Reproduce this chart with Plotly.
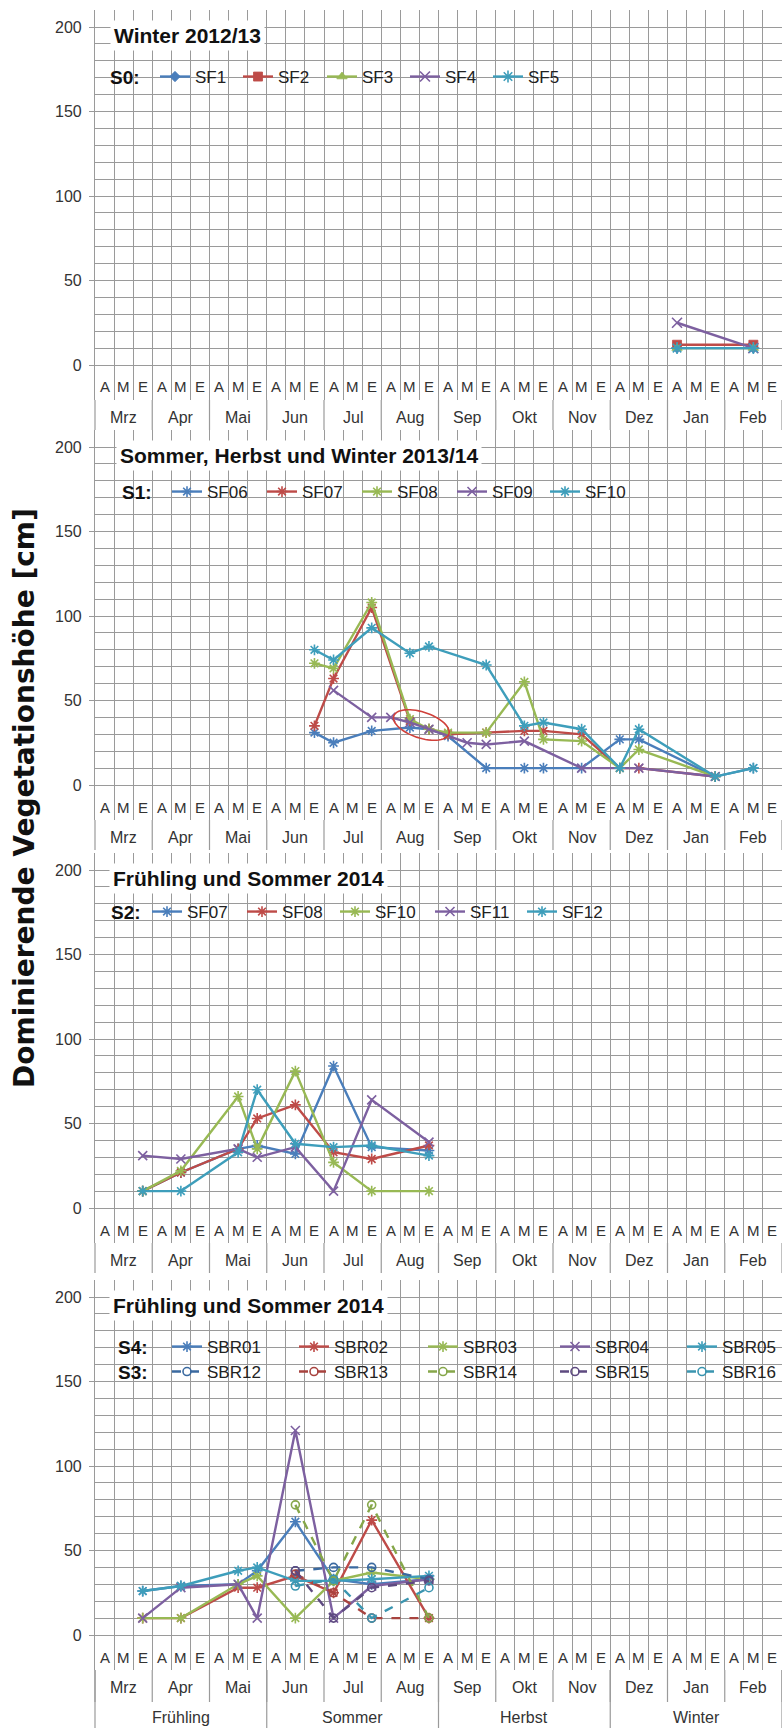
import numpy as np
import plotly.graph_objects as go

# ---------------------------------------------------------------
# Category axis: 12 months, each split into Anfang / Mitte / Ende
# ---------------------------------------------------------------
months = ["Mrz", "Apr", "Mai", "Jun", "Jul", "Aug", "Sep", "Okt", "Nov", "Dez", "Jan", "Feb"]
thirds = ["A", "M", "E"]
seasons = ["Frühling", "Sommer", "Herbst", "Winter"]
slots = [f"{m} {t}" for m in months for t in thirds]
slot_index = {s: i for i, s in enumerate(slots)}
n_slots = len(slots)

y_major = [0, 50, 100, 150, 200]
y_minor = [v for v in range(10, 211, 10) if v % 50 != 0]

# ---------------- Panel 1: S0, Winter 2012/13 -------------------
s0_slots = ["Jan A", "Feb M"]
s0_sf1 = [10, 10]
s0_sf2 = [12, 12]
s0_sf3 = [10, 10]
s0_sf4 = [25, 10]
s0_sf5 = [10, 10]

# ------- Panel 2: S1, Sommer, Herbst und Winter 2013/14 ---------
s1_slots = ["Jun E", "Jul A", "Jul E", "Aug A", "Aug M", "Aug E", "Sep A", "Sep M",
            "Sep E", "Okt M", "Okt E", "Nov M", "Dez A", "Dez M", "Jan E", "Feb M"]
s1_sf06 = [31, 25, 32, None, 34, 33, 29, None, 10, 10, 10, 10, 27, 27, 5, 10]
s1_sf07 = [35, 63, 105, None, 38, 33, 30, None, 31, 32, 32, 30, 10, 10, 5, None]
s1_sf08 = [72, 69, 108, None, 39, 33, 31, None, 31, 61, 27, 26, 10, 21, 5, None]
s1_sf09 = [None, 56, 40, 40, 37, 33, None, 25, 24, 26, None, 10, None, 10, 5, None]
s1_sf10 = [80, 74, 93, None, 78, 82, None, None, 71, 35, 37, 33, 10, 33, 5, 10]

# ------------- Panel 3: S2, Frühling und Sommer 2014 ------------
s2_slots = ["Mrz E", "Apr M", "Mai M", "Mai E", "Jun M", "Jul A", "Jul E", "Aug E"]
s2_sf07 = [10, 21, 35, 37, 32, 84, 36, 34]
s2_sf08 = [10, 21, 35, 53, 61, 33, 29, 37]
s2_sf10 = [10, 22, 66, 35, 81, 27, 10, 10]
s2_sf11 = [31, 29, 35, 30, 36, 10, 64, 39]
s2_sf12 = [10, 10, 33, 70, 38, 36, 37, 31]

# -------- Panel 4: S4 / S3, Frühling und Sommer 2014 ------------
s4_slots = ["Mrz E", "Apr M", "Mai M", "Mai E", "Jun M", "Jul A", "Jul E", "Aug E"]
s4_sbr01 = [26, 29, 30, 38, 67, 33, 30, 33]
s4_sbr02 = [10, 10, 28, 28, 35, 25, 68, 10]
s4_sbr03 = [10, 10, 30, 35, 10, 32, 37, 33]
s4_sbr04 = [10, 28, 30, 10, 121, 10, 29, 33]
s4_sbr05 = [26, 29, 38, 40, 32, 32, 33, 35]
s3_sbr12 = [None, None, None, None, 38, 40, 40, 33]
s3_sbr13 = [None, None, None, None, 36, 25, 10, 10]
s3_sbr14 = [None, None, None, None, 77, 32, 77, 10]
s3_sbr15 = [None, None, None, None, 38, 10, 28, 32]
s3_sbr16 = [None, None, None, None, 29, 33, 10, 28]

# ---------------------------------------------------------------
# Styling
# ---------------------------------------------------------------
W, H = 782, 1728
LEFT = 95
FONT = "Liberation Sans, Arial, sans-serif"
GRID = "#9a9a9a"
BLUE, RED, GREEN, PURPLE, AQUA = "#4A7EBB", "#BE4B48", "#98B954", "#7D60A0", "#3E9EBB"
D_BLUE, D_RED, D_GREEN, D_PURPLE, D_AQUA = "#3B6AA0", "#A8433F", "#86A74A", "#5E4A80", "#3A95B0"

PX_PER_UNIT = 1.69
Y_TOP = 210
ZERO_PX = [365, 785, 1208, 1635]     # pixel row of value 0 in each panel
LABEL_ROW = 35                        # height of the A/M/E row below the zero line
Y_BOTTOM = -LABEL_ROW / PX_PER_UNIT
DOM_H = (Y_TOP - Y_BOTTOM) * PX_PER_UNIT


def paper_y(px):
    return 1 - px / H


def paper_x(px):
    return (px - LEFT) / (W - LEFT)


fig = go.Figure()
layout = dict(
    width=W, height=H,
    margin=dict(l=LEFT, r=0, t=0, b=0),
    paper_bgcolor="white", plot_bgcolor="white",
    font=dict(family=FONT, size=16, color="#1a1a1a"),
    showlegend=True,
)
annotations = []
shapes = []

for k in range(1, 5):
    z = ZERO_PX[k - 1]
    dom_bottom = paper_y(z + LABEL_ROW)
    dom_top = paper_y(z - Y_TOP * PX_PER_UNIT)
    sfx = "" if k == 1 else str(k)
    layout[f"xaxis{sfx}"] = dict(
        domain=[0, 1], anchor=f"y{sfx}", range=[-0.5, n_slots - 0.5],
        tickmode="array", tickvals=[b - 0.5 for b in range(n_slots + 1)],
        showticklabels=False, ticks="", showgrid=True, gridcolor=GRID, gridwidth=1.2,
        zeroline=False, showline=False, fixedrange=True,
    )
    layout[f"yaxis{sfx}"] = dict(
        domain=[dom_bottom, dom_top], anchor=f"x{sfx}", range=[Y_BOTTOM, Y_TOP],
        tickmode="array", tickvals=y_major, ticktext=[str(v) for v in y_major],
        ticks="outside", ticklen=5, tickcolor=GRID, ticklabelstandoff=4,
        tickfont=dict(size=16, color="#333333"),
        showgrid=True, gridcolor=GRID, gridwidth=1.2,
        minor=dict(tickmode="array", tickvals=y_minor, showgrid=True,
                   gridcolor=GRID, gridwidth=1.2, ticks=""),
        zeroline=False, showline=True, linecolor=GRID, linewidth=1.2, fixedrange=True,
    )

    xref, yref = f"x{sfx}", f"y{sfx}"
    # A / M / E row inside the plot area, below zero
    for i in range(n_slots):
        annotations.append(dict(
            x=i, y=-22 / PX_PER_UNIT, xref=xref, yref=yref, text=thirds[i % 3],
            showarrow=False, font=dict(size=15, color="#333333"),
        ))
    # month row below the plot area
    month_rows = 32 if k == 4 else 30
    for m, name in enumerate(months):
        annotations.append(dict(
            x=3 * m + 1, y=-17 / DOM_H, xref=xref, yref=f"{yref} domain", text=name,
            showarrow=False, font=dict(size=16, color="#333333"), yanchor="middle",
        ))
    for b in range(len(months) + 1):
        shapes.append(dict(
            type="line", xref=f"{xref} domain", yref=f"{yref} domain",
            x0=3 * b / n_slots, x1=3 * b / n_slots, y0=0, y1=-month_rows / DOM_H,
            line=dict(color=GRID, width=1.2),
        ))
    if k == 4:
        for s, name in enumerate(seasons):
            annotations.append(dict(
                x=9 * s + 4, y=-47 / DOM_H, xref=xref, yref=f"{yref} domain", text=name,
                showarrow=False, font=dict(size=16, color="#333333"), yanchor="middle",
            ))
        for b in range(len(seasons) + 1):
            shapes.append(dict(
                type="line", xref=f"{xref} domain", yref=f"{yref} domain",
                x0=9 * b / n_slots, x1=9 * b / n_slots, y0=0, y1=-60 / DOM_H,
                line=dict(color=GRID, width=1.2),
            ))

# ---------------------------------------------------------------
# Legend rows: (panel, group label, label x, row y, entry x, strip end)
# every entry gets its own small legend box placed along the row
# ---------------------------------------------------------------
legend_rows = [
    (1, "S0:", 108, 77, [155, 238, 322, 405, 488], 565),
    (2, "S1:", 120, 492, [167, 262, 357, 452, 545], 632),
    (3, "S2:", 109, 912, [147, 242, 335, 430, 522], 610),
    (4, "S4:", 116, 1347, [167, 294, 423, 555, 682], 782),
    (4, "S3:", 116, 1372, [167, 294, 423, 555, 682], 782),
]
legend_slots = []   # (x px, y px) in trace order
for k, label, lab_x, row_y, entry_x, strip_end in legend_rows:
    for ex_px in entry_x:
        legend_slots.append((ex_px, row_y))
    # white strip behind the legend row
    shapes.append(dict(
        type="rect", xref="paper", yref="paper", layer="between",
        x0=paper_x(lab_x - 4), x1=paper_x(strip_end),
        y0=paper_y(row_y + 12), y1=paper_y(row_y - 12),
        fillcolor="white", line=dict(width=0),
    ))
    annotations.append(dict(
        x=paper_x(lab_x), y=paper_y(row_y), xref="paper", yref="paper",
        text=f"<b>{label}</b>", showarrow=False, xanchor="left", yanchor="middle",
        font=dict(size=19, color="#111111"),
    ))

trace_counter = [0]


def add_series(k, slot_list, values, name, color, symbol,
               dash="solid", size=9, open_marker=True):
    sfx = "" if k == 1 else str(k)
    n = trace_counter[0]
    trace_counter[0] += 1
    legend_id = "legend" if n == 0 else f"legend{n + 1}"
    lx, ly = legend_slots[n]
    layout[legend_id] = dict(
        x=paper_x(lx), y=paper_y(ly), xanchor="left", yanchor="middle",
        orientation="v", bgcolor="rgba(255,255,255,0)", borderwidth=0,
        font=dict(size=17, color="#222222"),
    )
    xs = [slot_index[s] for s in slot_list]
    marker = dict(symbol=symbol, size=size, color=color,
                  line=dict(width=1.6 if open_marker else 0.8, color=color))
    fig.add_trace(go.Scatter(
        x=xs, y=values, mode="lines+markers", name=name, showlegend=True,
        line=dict(color=color, width=2.4, dash=dash), marker=marker,
        connectgaps=True, xaxis=f"x{sfx}", yaxis=f"y{sfx}", legend=legend_id,
    ))


# Panel 1
add_series(1, s0_slots, s0_sf1, "SF1", BLUE, "diamond", size=8, open_marker=False)
add_series(1, s0_slots, s0_sf2, "SF2", RED, "square", size=9, open_marker=False)
add_series(1, s0_slots, s0_sf3, "SF3", GREEN, "triangle-up", size=9, open_marker=False)
add_series(1, s0_slots, s0_sf4, "SF4", PURPLE, "x-thin-open", size=10)
add_series(1, s0_slots, s0_sf5, "SF5", AQUA, "asterisk-open", size=10)

# Panel 2
add_series(2, s1_slots, s1_sf06, "SF06", BLUE, "asterisk-open")
add_series(2, s1_slots, s1_sf07, "SF07", RED, "asterisk-open")
add_series(2, s1_slots, s1_sf08, "SF08", GREEN, "asterisk-open")
add_series(2, s1_slots, s1_sf09, "SF09", PURPLE, "x-thin-open")
add_series(2, s1_slots, s1_sf10, "SF10", AQUA, "asterisk-open")

# Panel 3
add_series(3, s2_slots, s2_sf07, "SF07", BLUE, "asterisk-open")
add_series(3, s2_slots, s2_sf08, "SF08", RED, "asterisk-open")
add_series(3, s2_slots, s2_sf10, "SF10", GREEN, "asterisk-open")
add_series(3, s2_slots, s2_sf11, "SF11", PURPLE, "x-thin-open")
add_series(3, s2_slots, s2_sf12, "SF12", AQUA, "asterisk-open")

# Panel 4
add_series(4, s4_slots, s4_sbr01, "SBR01", BLUE, "asterisk-open")
add_series(4, s4_slots, s4_sbr02, "SBR02", RED, "asterisk-open")
add_series(4, s4_slots, s4_sbr03, "SBR03", GREEN, "asterisk-open")
add_series(4, s4_slots, s4_sbr04, "SBR04", PURPLE, "x-thin-open")
add_series(4, s4_slots, s4_sbr05, "SBR05", AQUA, "asterisk-open")
add_series(4, s4_slots, s3_sbr12, "SBR12", D_BLUE, "circle-open", dash="dash", size=8)
add_series(4, s4_slots, s3_sbr13, "SBR13", D_RED, "circle-open", dash="dash", size=8)
add_series(4, s4_slots, s3_sbr14, "SBR14", D_GREEN, "circle-open", dash="dash", size=8)
add_series(4, s4_slots, s3_sbr15, "SBR15", D_PURPLE, "circle-open", dash="dash", size=8)
add_series(4, s4_slots, s3_sbr16, "SBR16", D_AQUA, "circle-open", dash="dash", size=8)

# Red ellipse highlighting the overlapping August values in panel 2
cx, cy = 16.6, 35.5                      # centre (category, value)
a_px, b_px, tilt = 29, 13, np.deg2rad(-18)
t = np.linspace(0, 2 * np.pi, 60)
ex_px = a_px * np.cos(t) * np.cos(tilt) - b_px * np.sin(t) * np.sin(tilt)
ey_px = a_px * np.cos(t) * np.sin(tilt) + b_px * np.sin(t) * np.cos(tilt)
slot_px = (W - LEFT) / n_slots
ex = cx + ex_px / slot_px
ey = cy + ey_px / PX_PER_UNIT
path = "M " + " L ".join(f"{x:.3f},{y:.3f}" for x, y in zip(ex, ey)) + " Z"
shapes.append(dict(type="path", xref="x2", yref="y2", path=path,
                   line=dict(color="#D0403A", width=1.6)))

# Panel titles
titles = ["Winter 2012/13", "Sommer, Herbst und Winter 2013/14",
          "Frühling und Sommer 2014", "Frühling und Sommer 2014"]
title_x_px = [110, 116, 109, 109]
for k, (txt, xp) in enumerate(zip(titles, title_x_px), start=1):
    sfx = "" if k == 1 else str(k)
    annotations.append(dict(
        x=paper_x(xp), y=195, xref="paper", yref=f"y{sfx}", text=f"<b>{txt}</b>",
        showarrow=False, xanchor="left", yanchor="middle", bgcolor="white",
        borderpad=3, font=dict(size=21, color="#111111"),
    ))

# Shared y-axis title
annotations.append(dict(
    x=paper_x(24), y=paper_y(798), xref="paper", yref="paper",
    xanchor="center", yanchor="middle",
    text="<b>Dominierende Vegetationshöhe [cm]</b>", textangle=-90, showarrow=False,
    font=dict(family="DejaVu Sans, sans-serif", size=28, color="#111111"),
))

layout["annotations"] = annotations
layout["shapes"] = shapes
fig.update_layout(**layout)

fig.write_html("out.html")
